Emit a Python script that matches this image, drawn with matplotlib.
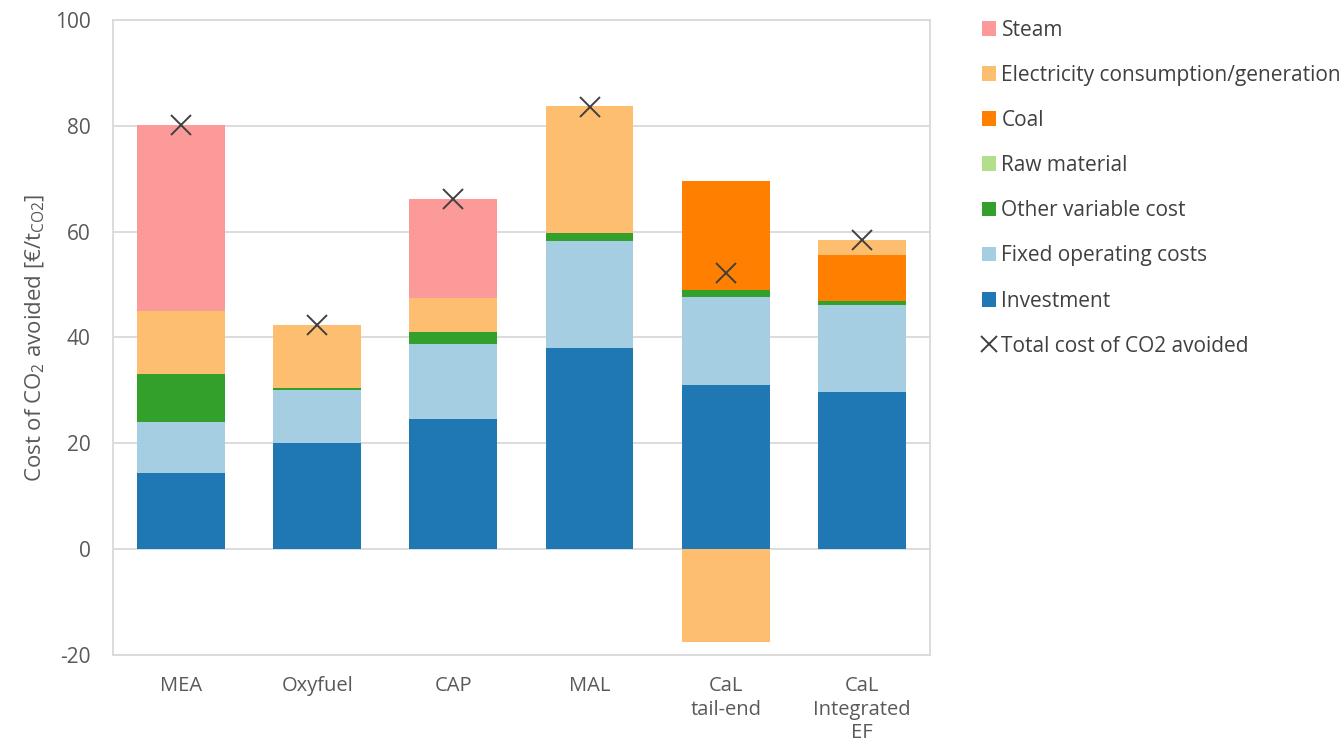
import matplotlib
matplotlib.use("Agg")
import matplotlib.pyplot as plt
from matplotlib.patches import Patch
from matplotlib.lines import Line2D
import numpy as np

plt.rcParams['font.family'] = ['Open Sans', 'DejaVu Sans']
plt.rcParams['mathtext.default'] = 'regular'
plt.rcParams['axes.unicode_minus'] = False

# cost breakdown per capture technology [EUR/t CO2 avoided]
processes = ['MEA', 'Oxyfuel', 'CAP', 'MAL', 'CaL\ntail-end', 'CaL\nIntegrated\nEF']
investment = [14.4, 20.0, 24.6, 38.0, 31.0, 29.7]
fixed_om = [9.6, 10.0, 14.2, 20.2, 16.6, 16.4]
other_variable = [9.1, 0.4, 2.2, 1.5, 1.4, 0.8]
raw_material = [0.0, 0.0, 0.0, 0.0, 0.0, 0.0]
coal = [0.0, 0.0, 0.0, 0.0, 20.6, 8.7]
electricity = [11.9, 11.9, 6.4, 24.0, -17.5, 2.8]
steam = [35.2, 0.0, 18.8, 0.0, 0.0, 0.0]
total = [80.2, 42.3, 66.1, 83.5, 52.1, 58.4]

# stacked bottom-to-top
components = [
    ('Investment', investment, '#1f78b4'),
    ('Fixed operating costs', fixed_om, '#a6cee3'),
    ('Other variable cost', other_variable, '#33a02c'),
    ('Raw material', raw_material, '#b2df8a'),
    ('Coal', coal, '#ff7f00'),
    ('Electricity consumption/generation', electricity, '#fdbf6f'),
    ('Steam', steam, '#fb9a99'),
]

fig = plt.figure(figsize=(13.43, 7.56), dpi=100)
ax = fig.add_axes([0.0841, 0.1336, 0.6084, 0.84])

x = np.arange(len(processes))
pos_bottom = np.zeros(len(processes))
neg_bottom = np.zeros(len(processes))
for name, vals, col in components:
    vals = np.array(vals)
    bottom = np.where(vals >= 0, pos_bottom, neg_bottom)
    ax.bar(x, vals, width=0.645, bottom=bottom, color=col, zorder=3)
    pos_bottom += np.clip(vals, 0, None)
    neg_bottom += np.clip(vals, None, 0)

ax.plot(x, total, linestyle='none', marker='x', markersize=15,
        markeredgewidth=1.4, color='#404040', zorder=4)

ax.set_xlim(-0.5, 5.5)
ax.set_ylim(-20, 100)
ax.set_yticks(np.arange(-20, 101, 20))
ax.grid(axis='y', color='#d9d9d9', linewidth=1.3, zorder=0)
for s in ax.spines.values():
    s.set_color('#d9d9d9')
    s.set_linewidth(1.3)
ax.tick_params(length=0, colors='#595959')
ax.tick_params(axis='y', pad=16, labelsize=15)
ax.tick_params(axis='x', pad=15, labelsize=14.5)
ax.set_xticks(x)
ax.set_xticklabels(processes, linespacing=1.25)
ax.set_ylabel('Cost of CO$_2$ avoided [€/t$_{CO2}$]', fontsize=16, color='#595959', labelpad=6)

# legend, listed top-to-bottom in reverse stacking order
handles = [Patch(facecolor=col, edgecolor='none', label=name)
           for name, vals, col in components[::-1]]
handles.append(Line2D([], [], linestyle='none', marker='x', markersize=12,
                      markeredgewidth=1.4, color='#404040',
                      label='Total cost of CO2 avoided'))
leg = fig.legend(handles=handles, loc='upper left', bbox_to_anchor=(0.717, 0.999),
                 frameon=False, fontsize=15, labelspacing=1.16, handlelength=0.7,
                 handleheight=0.7, handletextpad=0.25)
for t in leg.get_texts():
    t.set_color('#404040')

fig.savefig('out.png', dpi=100)
